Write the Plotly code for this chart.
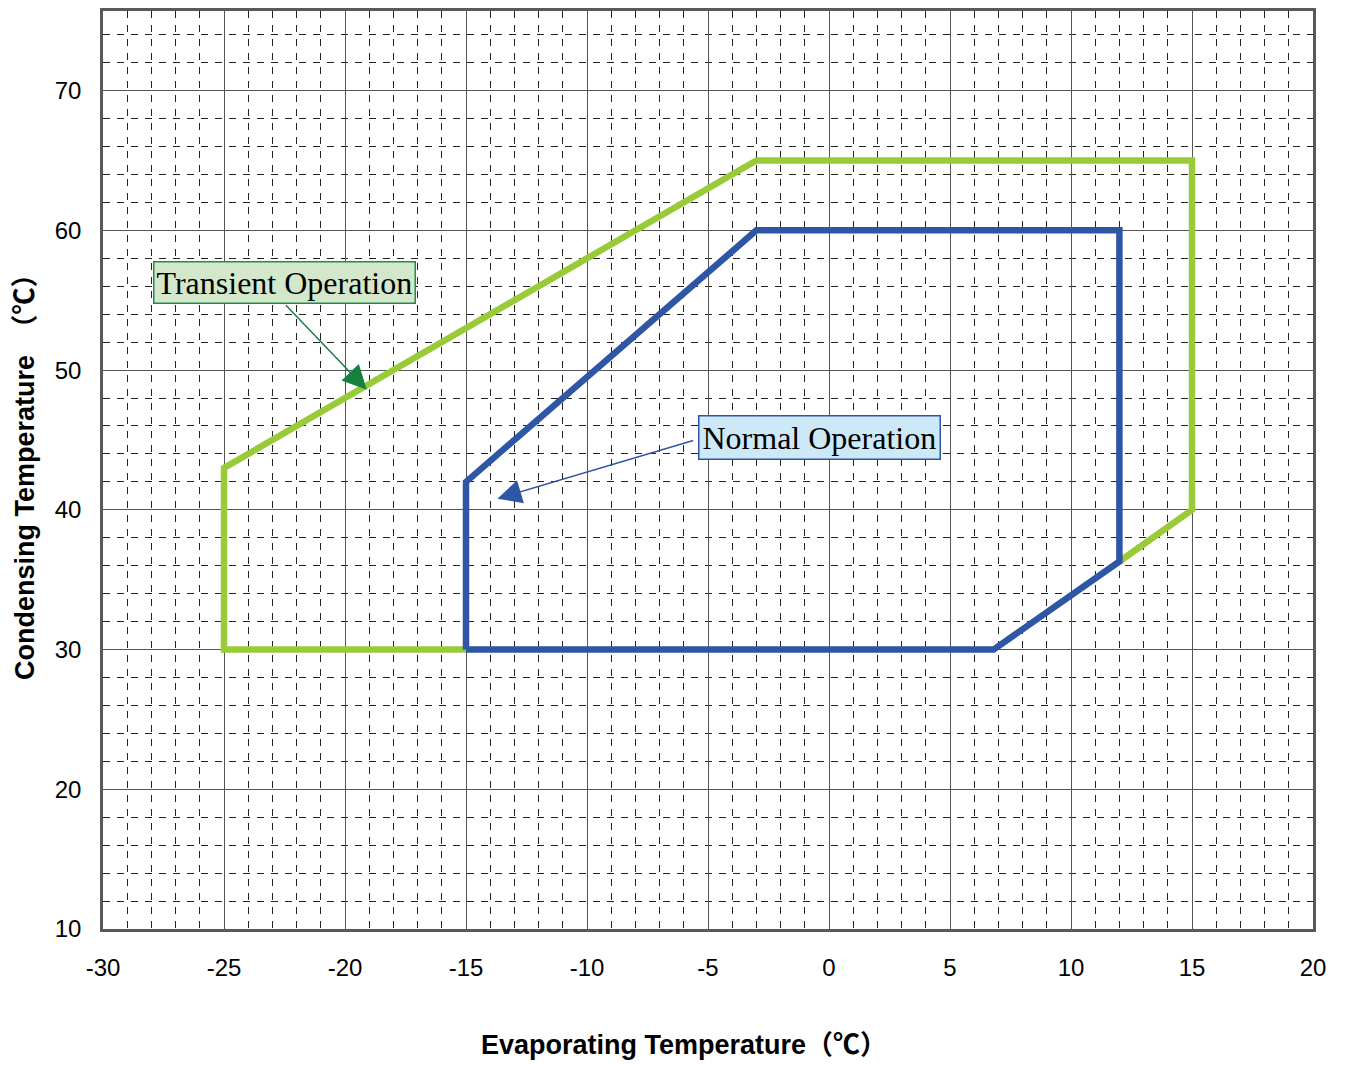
import plotly.graph_objects as go

# Operating envelope data
transient_x = [-15, -25, -25, -3, 15, 15, 12]
transient_y = [30, 30, 43, 65, 65, 40, 36.3]
normal_x = [-15, -15, -3, 12, 12, 6.8, -15]
normal_y = [30, 42, 60, 60, 36.3, 30, 30]

x_ticks = [-30, -25, -20, -15, -10, -5, 0, 5, 10, 15, 20]
y_ticks = [10, 20, 30, 40, 50, 60, 70]

GREEN = "#99CB38"
BLUE = "#2F55A5"

fig = go.Figure()
fig.add_trace(go.Scatter(x=transient_x, y=transient_y, mode="lines",
                         line=dict(color=GREEN, width=6.5), hoverinfo="skip", showlegend=False))
fig.add_trace(go.Scatter(x=normal_x, y=normal_y, mode="lines",
                         line=dict(color=BLUE, width=6.5), hoverinfo="skip", showlegend=False))

ann = []
# Transient label box
ann.append(dict(x=-22.5, y=56.3, xref="x", yref="y", text="Transient Operation", showarrow=False,
                font=dict(family="Liberation Serif", size=32, color="black"),
                bgcolor="#D3E8CB", bordercolor="#1E8C4A", borderwidth=1.5, borderpad=2))
ann.append(dict(x=-19.1, y=48.6, ax=-22.5, ay=54.75, xref="x", yref="y", axref="x", ayref="y",
                text="", showarrow=True, arrowhead=2, arrowsize=3.2, arrowwidth=1.5,
                arrowcolor="#17803F"))
# Normal label box
ann.append(dict(x=-0.4, y=45.15, xref="x", yref="y", text="Normal Operation", showarrow=False,
                font=dict(family="Liberation Serif", size=32, color="black"),
                bgcolor="#CDE9F8", bordercolor=BLUE, borderwidth=1.5, borderpad=3))
ann.append(dict(x=-13.7, y=40.8, ax=-5.55, ay=45.0, xref="x", yref="y", axref="x", ayref="y",
                text="", showarrow=True, arrowhead=2, arrowsize=3.2, arrowwidth=1.5,
                arrowcolor=BLUE))
# Axis titles
title_font = dict(family="Liberation Sans, Arial, Noto Sans CJK SC", size=27, color="black", weight="bold")
ann.append(dict(x=0.4805, y=0, xref="paper", yref="paper", yanchor="middle", xanchor="center",
                yshift=-116, text="Evaporating Temperature（℃）", showarrow=False, font=title_font))
ann.append(dict(x=0, y=0.5, xref="paper", yref="paper", xanchor="center", yanchor="middle",
                xshift=-78, textangle=-90, text="Condensing Temperature　（℃）", showarrow=False,
                font=title_font))

axis_common = dict(
    showline=True, linecolor="#5A5A5A", linewidth=2.5, mirror=True,
    showgrid=True, gridcolor="#555555", gridwidth=1,
    zeroline=False, ticks="",
    tickfont=dict(family="Liberation Sans, Arial", size=24, color="black"),
)

fig.update_layout(
    width=1340, height=1057,
    margin=dict(l=95, r=35, t=0, b=136),
    paper_bgcolor="white", plot_bgcolor="white",
    annotations=ann,
    xaxis=dict(
        range=[-30, 20], tickvals=x_ticks, ticktext=[str(v) for v in x_ticks],
        ticklabelstandoff=15,
        minor=dict(dtick=1, showgrid=True, gridcolor="#222222", gridwidth=1, griddash="7px,7px"),
        **axis_common),
    yaxis=dict(
        range=[10, 75.7], tickvals=y_ticks, ticktext=[str(v) for v in y_ticks],
        ticklabelstandoff=14,
        minor=dict(dtick=2, showgrid=True, gridcolor="#222222", gridwidth=1, griddash="7px,7px"),
        **axis_common),
)

fig.write_html("out.html")
